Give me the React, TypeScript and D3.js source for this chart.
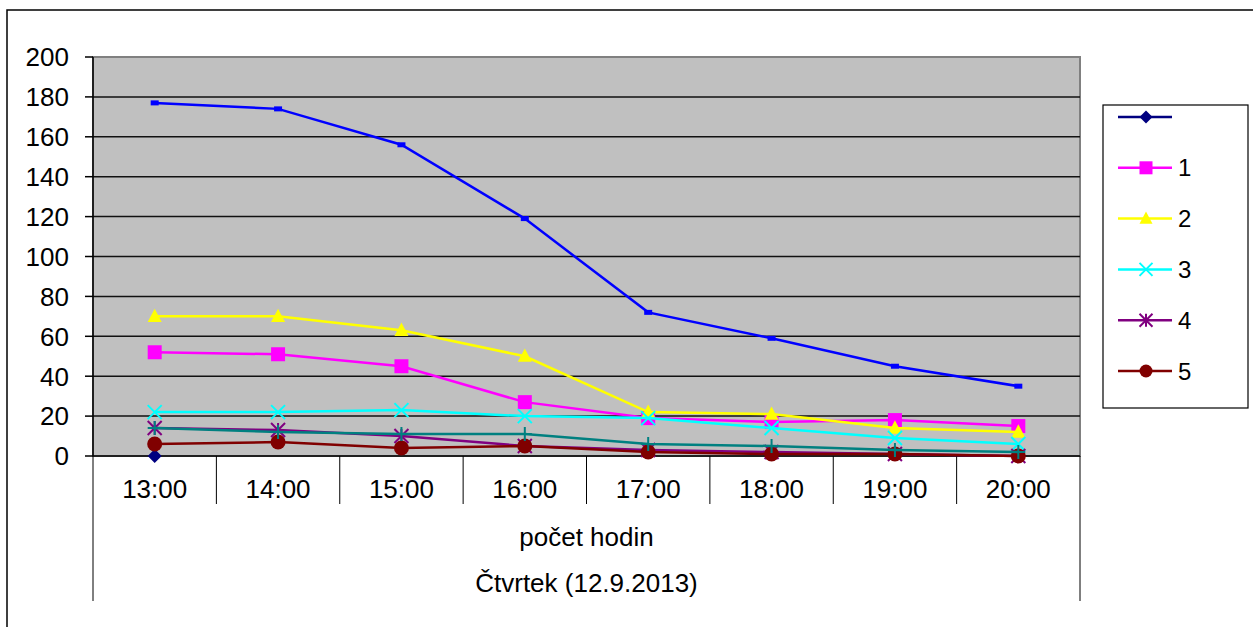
import React from 'react';
import * as d3 from 'd3';

const hours = ['13:00', '14:00', '15:00', '16:00', '17:00', '18:00', '19:00', '20:00'];
const yTicks = [0, 20, 40, 60, 80, 100, 120, 140, 160, 180, 200];

// series values
const seriesBlank = [0];
const series1 = [52, 51, 45, 27, 19, 17, 18, 15];
const series2 = [70, 70, 63, 50, 22, 21, 14, 12];
const series3 = [22, 22, 23, 20, 19, 14, 9, 6];
const series4 = [14, 13, 10, 5, 3, 2, 1, 0];
const series5 = [6, 7, 4, 5, 2, 1, 1, 0];
const series6 = [14, 12, 11, 11, 6, 5, 3, 2];
const series7 = [177, 174, 156, 119, 72, 59, 45, 35];

const axisTitle = 'počet hodin';
const groupTitle = 'Čtvrtek (12.9.2013)';

type Marker = 'diamond' | 'square' | 'triangle' | 'x' | 'star' | 'circle' | 'plus' | 'dash';

interface Series {
	name: string
	values: number[]
	color: string
	marker: Marker
	inLegend: boolean
}

const series: Series[] = [
	{ name: '', values: seriesBlank, color: '#000080', marker: 'diamond', inLegend: true },
	{ name: '1', values: series1, color: '#ff00ff', marker: 'square', inLegend: true },
	{ name: '2', values: series2, color: '#ffff00', marker: 'triangle', inLegend: true },
	{ name: '3', values: series3, color: '#00ffff', marker: 'x', inLegend: true },
	{ name: '4', values: series4, color: '#800080', marker: 'star', inLegend: true },
	{ name: '5', values: series5, color: '#800000', marker: 'circle', inLegend: true },
	{ name: '6', values: series6, color: '#008080', marker: 'plus', inLegend: false },
	{ name: '7', values: series7, color: '#0000ff', marker: 'dash', inLegend: false },
];

const font = '"Liberation Sans", Arial, sans-serif';

const MarkerShape: React.FC<{ type: Marker, x: number, y: number, color: string, s: number }> = ({ type, x, y, color, s }) => {
	const h = s / 2;
	switch (type) {
		case 'diamond':
			return <path d={`M${x},${y - h}L${x + h},${y}L${x},${y + h}L${x - h},${y}Z`} fill={color} />;
		case 'square':
			return <rect x={x - h} y={y - h} width={s} height={s} fill={color} />;
		case 'triangle':
			return <path d={`M${x},${y - h * 1.1}L${x + h},${y + h * 0.8}L${x - h},${y + h * 0.8}Z`} fill={color} />;
		case 'circle':
			return <circle cx={x} cy={y} r={h} fill={color} />;
		case 'x':
			return <path d={`M${x - h},${y - h}L${x + h},${y + h}M${x + h},${y - h}L${x - h},${y + h}`} stroke={color} strokeWidth={2} fill="none" />;
		case 'plus':
			return <path d={`M${x - h},${y}L${x + h},${y}M${x},${y - h}L${x},${y + h}`} stroke={color} strokeWidth={2} fill="none" />;
		case 'star':
			return <path d={`M${x - h},${y - h}L${x + h},${y + h}M${x + h},${y - h}L${x - h},${y + h}M${x},${y - h}L${x},${y + h}`} stroke={color} strokeWidth={2} fill="none" />;
		case 'dash':
			return <rect x={x - 4} y={y - 2.5} width={8} height={5} fill={color} />;
	}
	return null;
};

const App: React.FC = () => {
	const width = 1253;
	const height = 627;
	const plot = { left: 93, right: 1080, top: 57, bottom: 456 };

	const xScale = d3.scaleBand<string>()
		.domain(hours)
		.range([plot.left, plot.right])
		.paddingInner(0)
		.paddingOuter(0);
	const bw = xScale.bandwidth();
	const cx = (i: number) => (xScale(hours[i]) as number) + bw / 2;

	const yScale = d3.scaleLinear()
		.domain([0, 200])
		.range([plot.bottom, plot.top]);

	const line = d3.line<number>()
		.x((_, i) => cx(i))
		.y(d => yScale(d));

	const legend = { x: 1103, y: 105, w: 145, h: 303, first: 117, step: 50.8 };

	return (
		<svg width={width} height={height} style={{ position: 'absolute', left: 0, top: 0, background: '#fff' }}>
			{/* chart frame */}
			<path d={`M7,${height}L7,10L${width},10`} stroke="#000" strokeWidth={1.5} fill="none" />

			{/* plot area */}
			<rect x={plot.left} y={plot.top} width={plot.right - plot.left} height={plot.bottom - plot.top}
				fill="#c0c0c0" stroke="#808080" strokeWidth={2} />
			{yTicks.filter(t => t > 0 && t < 200).map(t => (
				<line key={t} x1={plot.left} x2={plot.right} y1={yScale(t)} y2={yScale(t)} stroke="#111" strokeWidth={1.5} />
			))}

			{/* y axis */}
			<line x1={plot.left} x2={plot.left} y1={plot.top} y2={plot.bottom} stroke="#000" strokeWidth={1.5} />
			{yTicks.map(t => (
				<g key={t}>
					<line x1={plot.left - 8} x2={plot.left} y1={yScale(t)} y2={yScale(t)} stroke="#000" strokeWidth={1.5} />
					<text x={69} y={yScale(t)} dy="0.36em" textAnchor="end" fontFamily={font} fontSize={26} fill="#000">{t}</text>
				</g>
			))}

			{/* x axis with grouped labels */}
			<line x1={plot.left} x2={plot.right} y1={plot.bottom} y2={plot.bottom} stroke="#000" strokeWidth={1.5} />
			{hours.map((hr, i) => (
				<text key={hr} x={cx(i)} y={489} dy="0.36em" textAnchor="middle" fontFamily={font} fontSize={26} fill="#000">{hr}</text>
			))}
			{hours.slice(1).map(hr => (
				<line key={hr} x1={xScale(hr) as number} x2={xScale(hr) as number} y1={plot.bottom} y2={504} stroke="#000" strokeWidth={1} />
			))}
			<line x1={plot.left} x2={plot.left} y1={plot.bottom} y2={601} stroke="#000" strokeWidth={1} />
			<line x1={plot.right} x2={plot.right} y1={plot.bottom} y2={601} stroke="#000" strokeWidth={1} />
			<text x={(plot.left + plot.right) / 2} y={537} dy="0.36em" textAnchor="middle" fontFamily={font} fontSize={26} fill="#000">{axisTitle}</text>
			<text x={(plot.left + plot.right) / 2} y={583} dy="0.36em" textAnchor="middle" fontFamily={font} fontSize={26} fill="#000">{groupTitle}</text>

			{/* series */}
			{series.map(s => (
				<g key={s.name}>
					{s.values.length > 1 && (
						<path d={line(s.values) || ''} fill="none" stroke={s.color} strokeWidth={2.5} />
					)}
					{s.values.map((v, i) => (
						<MarkerShape key={i} type={s.marker} x={cx(i)} y={yScale(v)} color={s.color} s={s.marker === 'circle' ? 15 : 14} />
					))}
				</g>
			))}

			{/* legend */}
			<rect x={legend.x} y={legend.y} width={legend.w} height={legend.h} fill="#fff" stroke="#000" strokeWidth={1.2} />
			{series.filter(s => s.inLegend).map((s, i) => {
				const ly = legend.first + i * legend.step;
				return (
					<g key={s.name}>
						<line x1={1118} x2={1172} y1={ly} y2={ly} stroke={s.color} strokeWidth={2.5} />
						<MarkerShape type={s.marker} x={1146} y={ly} color={s.color} s={13} />
						<text x={1178} y={ly} dy="0.36em" fontFamily={font} fontSize={24} fill="#000">{s.name}</text>
					</g>
				);
			})}
		</svg>
	);
};

export default App;
